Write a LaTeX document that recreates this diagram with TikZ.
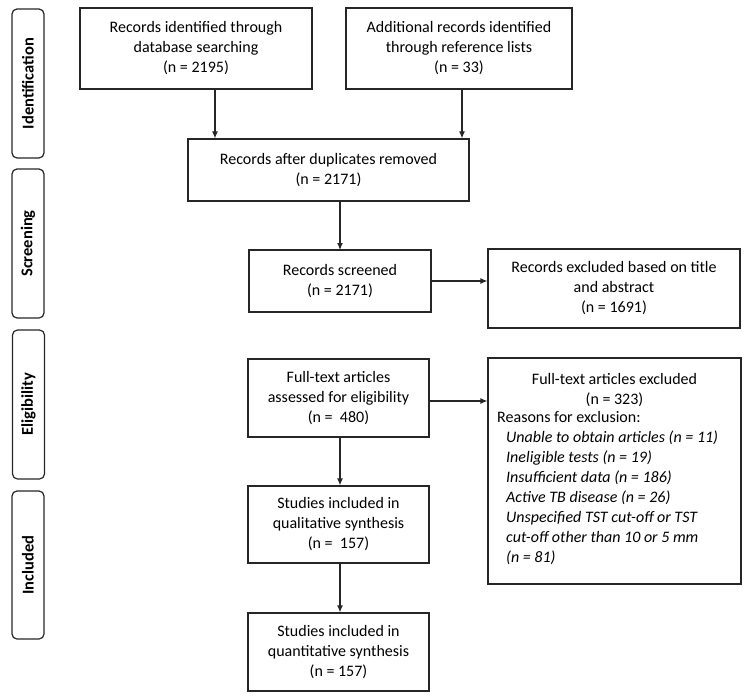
\documentclass[tikz,border=0pt]{standalone}
\usepackage{fontspec}
\setmainfont{Carlito}
\usetikzlibrary{arrows.meta}
\tikzset{
  box/.style={draw=black!85, line width=1.2pt, align=center, inner sep=0pt, font=\fontsize{16}{20}\selectfont},
  phase/.style={draw=black!85, line width=1.2pt, rounded corners=5pt, inner sep=0pt},
  phasetxt/.style={rotate=90, font=\fontsize{16.5}{18}\selectfont\bfseries},
  arr/.style={line width=1.2pt, draw=black!85, -{Latex[length=7pt,width=6pt]}}
}
\newcommand{\bx}[6]{% name, x1, y1, x2, y2, text
  \node[box, minimum width={#4-#2}, minimum height={#5-#3}] (#1) at ({(#2+#4)/2},{(#3+#5)/2}) {#6};}
\begin{document}
\begin{tikzpicture}[x=1pt,y=-1pt]
\useasboundingbox (0,0) rectangle (749,698);
% phase tabs
\node[phase, minimum width=32pt, minimum height=149pt] (pid) at (28,83.5) {};
\node[phasetxt] (tid) at (pid.center) {Identification};
\node[phase, minimum width=32pt, minimum height=149pt] (psc) at (28,243.5) {};
\node[phasetxt] (tsc) at (psc.center) {Screening};
\node[phase, minimum width=32pt, minimum height=149pt] (pel) at (28.5,404.5) {};
\node[phasetxt] (tel) at (pel.center) {Eligibility};
\node[phase, minimum width=32pt, minimum height=148pt] (pin) at (28,565) {};
\node[phasetxt] (tin) at (pin.center) {Included};
% boxes
\bx{b1}{80}{8}{312}{89}{Records identified through\\database searching\\(n = 2195)}
\bx{b2}{346}{8}{572}{89}{Additional records identified\\through reference lists\\(n = 33)}
\bx{b3}{188}{139}{469}{201}{Records after duplicates removed\\(n = 2171)}
\bx{b4}{249}{250}{431}{312}{Records screened\\(n = 2171)}
\bx{b5}{488}{249}{740}{328}{Records excluded based on title\\and abstract\\(n = 1691)}
\bx{b6}{248}{359}{429}{437}{Full-text articles\\assessed for eligibility\\(n =~~480)}
\bx{b8}{248}{486}{429}{563}{Studies included in\\qualitative synthesis\\(n =~~157)}
\bx{b9}{248}{613}{429}{691}{Studies included in\\quantitative synthesis\\(n = 157)}
\node[box, minimum width=253pt, minimum height=226pt] (b7) at (614.5,471) {};
\node[font=\fontsize{16}{20}\selectfont, align=center] (t7a) at (614.5,390) {Full-text articles excluded\\(n = 323)};
\node[font=\fontsize{16}{20}\selectfont, align=left, anchor=north west, inner sep=0pt] (t7b) at (497,411) {Reasons for exclusion:\\
\hspace*{9pt}\textit{Unable to obtain articles (n = 11)}\\
\hspace*{9pt}\textit{Ineligible tests (n = 19)}\\
\hspace*{9pt}\textit{Insufficient data (n = 186)}\\
\hspace*{9pt}\textit{Active TB disease (n = 26)}\\
\hspace*{9pt}\textit{Unspecified TST cut-off or TST}\\
\hspace*{9pt}\textit{cut-off other than 10 or 5 mm}\\
\hspace*{9pt}\textit{(n = 81)}};
% arrows
\coordinate (a1) at (215,89);
\coordinate (a2) at (462,89);
\draw[arr] (a1) -- (a1 |- b3.north);
\draw[arr] (a2) -- (a2 |- b3.north);
\draw[arr] (340,201) -- (340,250);
\draw[arr] (b4.east |- 0,281) -- (b5.west |- 0,281);
\draw[arr] (b6.east |- 0,401) -- (b7.west |- 0,401);
\draw[arr] (b6.south -| 340,0) -- (b8.north -| 340,0);
\draw[arr] (b8.south -| 340,0) -- (b9.north -| 340,0);
\end{tikzpicture}
\end{document}
